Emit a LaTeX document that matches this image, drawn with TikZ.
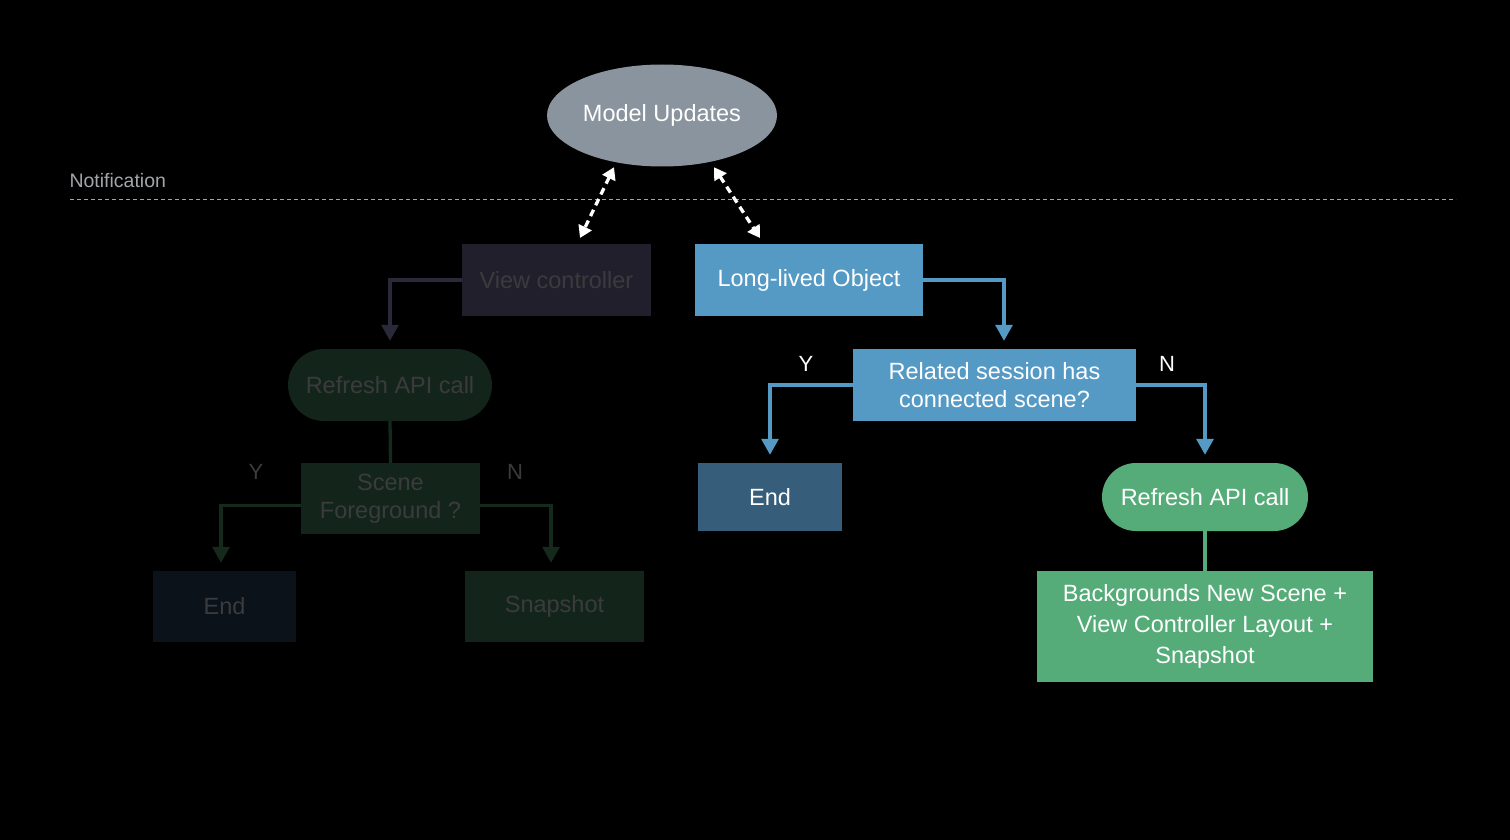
\documentclass[tikz,border=0pt]{standalone}
\usepackage{fontspec}
\setmainfont{Liberation Sans}
\usetikzlibrary{shapes.geometric,arrows.meta}

\definecolor{modelgray}{HTML}{8A949E}
\definecolor{notegray}{HTML}{A2A6AA}
\definecolor{dimtext}{HTML}{3B3B3D}
\definecolor{vcfill}{HTML}{211F2C}
\definecolor{vcline}{HTML}{2A2939}
\definecolor{dimgreen}{HTML}{13251A}
\definecolor{dimline}{HTML}{15291D}
\definecolor{dimend}{HTML}{0B121A}
\definecolor{liveblue}{HTML}{5599C5}
\definecolor{endblue}{HTML}{365E7A}
\definecolor{livegreen}{HTML}{55AC78}

\tikzset{
  box/.style={rectangle, inner sep=0pt, font=\fontsize{23.5}{28}\selectfont, align=center},
  pill/.style={box, rounded corners=34pt},
  flow/.style={line width=3.3pt, -{Triangle[length=16pt,width=17pt]}, shorten >=8pt},
  link/.style={line width=3.3pt, white, dash pattern=on 7pt off 5pt,
    {Triangle[length=12pt,width=14pt]}-{Triangle[length=12pt,width=14pt]}},
  yn/.style={font=\fontsize{22}{26}\selectfont}
}

\begin{document}
\begin{tikzpicture}[x=1pt,y=-1pt]
    \fill [black] (0,0) rectangle (1510,840);
    \useasboundingbox (0,0) rectangle (1510,840);
    % top
    \node [ellipse, fill=modelgray, minimum width=230pt, minimum height=102pt, inner sep=0pt,
      text=white, font=\fontsize{23.5}{28}\selectfont] (model) at (662,115.5) {Model Updates};
    \node [anchor=base west, text=notegray, font=\fontsize{19.5}{24}\selectfont] (note) at (66,187) {Notification};
    \draw [notegray, line width=1pt, dash pattern=on 4pt off 3pt] (70,199) -- (1456,199);
    % left (dimmed) branch
    \node [box, fill=vcfill, text=dimtext, minimum width=189pt, minimum height=72pt] (vc) at (556.5,280) {View controller};
    \node [pill, fill=dimgreen, text=dimtext, minimum width=204pt, minimum height=72pt, rounded corners=36pt] (refL) at (390,385) {Refresh API call};
    \node [box, fill=dimgreen, text=dimtext, minimum width=179pt, minimum height=71pt] (scene) at (390.5,498.5) {Scene\\Foreground ?};
    \node [box, fill=dimend, text=dimtext, minimum width=143pt, minimum height=71pt] (endL) at (224.5,606.5) {End};
    \node [box, fill=dimgreen, text=dimtext, minimum width=179pt, minimum height=71pt] (snap) at (554.5,606.5) {Snapshot};
    \node [yn, text=dimtext] (yL) at (256,472) {Y};
    \node [yn, text=dimtext] (nL) at (515,472) {N};
    \draw [flow, vcline] (vc.west) -| (refL.north);
    \draw [dimline, line width=3.3pt] (refL.south) -- (scene.north);
    \draw [flow, dimline] ([yshift=-7pt]scene.west) -| ([xshift=-3.5pt]endL.north);
    \draw [flow, dimline] ([yshift=-7pt]scene.east) -| ([xshift=-3.5pt]snap.north);
    % right branch
    \node [box, fill=liveblue, text=white, minimum width=228pt, minimum height=72pt] (obj) at (809,280) {Long-lived Object};
    \node [box, fill=liveblue, text=white, minimum width=283pt, minimum height=72pt] (rel) at (994.5,385) {Related session has\\connected scene?};
    \node [box, fill=endblue, text=white, minimum width=144pt, minimum height=68pt] (endR) at (770,497) {End};
    \node [pill, fill=livegreen, text=white, minimum width=206pt, minimum height=68pt] (refR) at (1205,497) {Refresh API call};
    \node [box, fill=livegreen, text=white, minimum width=336pt, minimum height=111pt,
      font=\fontsize{23.5}{31}\selectfont] (bg) at (1205,626.5) {Backgrounds New Scene +\\View Controller Layout +\\Snapshot};
    \node [yn, text=white] (yR) at (806,364) {Y};
    \node [yn, text=white] (nR) at (1167,364) {N};
    \draw [flow, liveblue] (obj.east) -| ([xshift=9.5pt]rel.north);
    \draw [flow, liveblue] (rel.west) -| (endR.north);
    \draw [flow, liveblue] (rel.east) -| (refR.north);
    \draw [livegreen, line width=3.3pt] (refR.south) -- (bg.north);
    % notification links
    \coordinate (vcTip) at (580,238);
    \coordinate (objTip) at (760,238);
    \draw [link] ([xshift=-48pt,yshift=-0.5pt]model.south) -- (vcTip);
    \draw [link] ([xshift=52pt,yshift=-0.5pt]model.south) -- (objTip);
\end{tikzpicture}
\end{document}
